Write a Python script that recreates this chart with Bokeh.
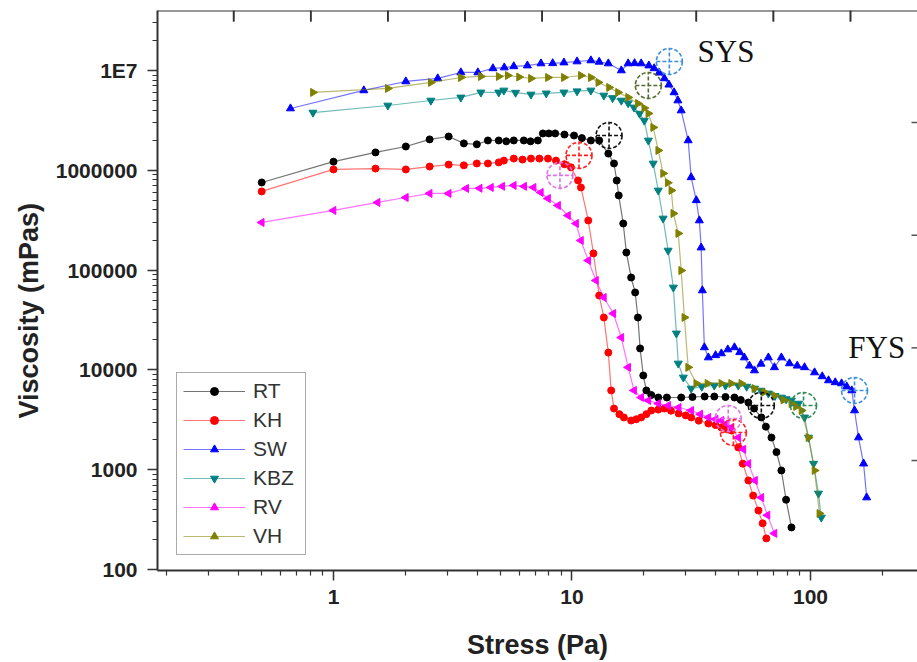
import numpy as np
from bokeh.plotting import figure
from bokeh.models import (Range1d, FixedTicker, Legend, LegendItem, Label, Span,
                          LinearScale, Title)
from bokeh.embed import file_html
from bokeh.resources import INLINE

# ---------------- data ----------------
RT_X = [0.5, 1.0, 1.5, 2.01, 2.53, 3.04, 3.52, 3.99, 4.44, 4.93,
        5.3, 5.7, 6.28, 6.7, 7.19, 7.55, 8.0, 8.5, 9.3, 10.2,
        11.0, 12.0, 13.0, 14.2, 15.0, 15.4, 15.7, 16.4, 16.9, 17.7,
        18.4, 18.9, 19.3, 19.9, 20.5, 21.5, 23.0, 25.0, 28.7, 32.0,
        36.0, 39.5, 44.0, 48.0, 51.0, 54.9, 58.0, 62.2, 65.0, 68.6,
        72.0, 75.5, 79.0, 83.2]
RT_Y = [7.55e5, 1.22e6, 1.51e6, 1.73e6, 2.04e6, 2.18e6, 1.86e6, 1.82e6, 1.99e6, 1.99e6,
        1.95e6, 1.99e6, 1.99e6, 1.95e6, 1.99e6, 2.34e6, 2.34e6, 2.34e6, 2.28e6, 2.23e6,
        2.1e6, 1.99e6, 1.99e6, 1.47e6, 1.17e6, 7.9e5, 5.6e5, 2.93e5, 1.5e5, 8.43e4,
        5.97e4, 3.35e4, 1.64e4, 8.79e3, 6.22e3, 5.6e3, 5.29e3, 5.29e3, 5.29e3, 5.35e3,
        5.41e3, 5.41e3, 5.35e3, 5.29e3, 5.0e3, 4.71e3, 4.1e3, 3.34e3, 2.7e3, 2.10e3,
        1.5e3, 982, 500, 264]

KH_X = [0.5, 1.0, 1.5, 2.01, 2.53, 3.04, 3.52, 3.99, 4.44, 4.93,
        5.18, 5.7, 6.2, 6.73, 7.3, 7.93, 8.57, 9.3, 9.9, 10.6,
        10.9, 11.7, 12.3, 13.0, 13.6, 14.2, 14.6, 15.0, 15.8, 16.5,
        17.7, 18.6, 19.5, 20.5, 21.5, 23.0, 24.4, 26.0, 28.0, 30.0,
        31.6, 34.0, 37.3, 40.0, 42.3, 44.5, 46.6, 49.8, 52.0, 54.9,
        57.5, 60.5, 63.0, 65.3]
KH_Y = [6.14e5, 1.02e6, 1.04e6, 1.02e6, 1.09e6, 1.14e6, 1.12e6, 1.17e6, 1.17e6, 1.20e6,
        1.25e6, 1.31e6, 1.28e6, 1.31e6, 1.31e6, 1.31e6, 1.25e6, 1.15e6, 1.07e6, 7.91e5,
        6.73e5, 3.14e5, 1.47e5, 5.56e4, 3.35e4, 1.49e4, 6.22e3, 4.10e3, 3.6e3, 3.34e3,
        3.11e3, 3.2e3, 3.34e3, 3.6e3, 3.92e3, 4.0e3, 4.10e3, 3.9e3, 3.66e3, 3.5e3,
        3.34e3, 3.1e3, 2.90e3, 2.8e3, 2.65e3, 2.55e3, 2.47e3, 1.67e3, 1.15e3, 780,
        550, 390, 290, 205]

SW_X = [0.66, 1.34, 2.01, 2.735, 3.42, 4.03, 4.66, 5.2, 5.7, 6.5,
        7.41, 8.3, 9.25, 10.5, 12.0, 13.0, 14.2, 16.1, 17.2, 18.3,
        19.5, 21.0, 22.1, 23.2, 24.4, 25.5, 26.8, 27.8, 28.7, 30.7,
        31.6, 33.2, 34.2, 34.8, 35.2, 35.9, 37.3, 40.0, 42.3, 45.0,
        48.0, 50.5, 52.8, 55.5, 58.2, 62.0, 66.6, 70.6, 75.5, 81.6,
        88.0, 94.4, 104, 112, 119, 127, 135, 142, 149, 153,
        159, 167, 172]
SW_Y = [4.16e6, 6.31e6, 7.76e6, 8.32e6, 9.55e6, 9.55e6, 1.05e7, 1.07e7, 1.10e7, 1.12e7,
        1.175e7, 1.18e7, 1.20e7, 1.23e7, 1.26e7, 1.22e7, 1.175e7, 1.0e7, 1.175e7, 1.18e7,
        1.175e7, 1.12e7, 1.05e7, 9.5e6, 8.32e6, 7.2e6, 6.03e6, 5.0e6, 3.97e6, 1.99e6,
        8.5e5, 5.0e5, 3.14e5, 1.68e5, 6.25e4, 1.68e4, 1.33e4, 1.4e4, 1.46e4, 1.6e4,
        1.68e4, 1.5e4, 1.33e4, 1.1e4, 9.86e3, 1.15e4, 1.33e4, 1.06e4, 1.33e4, 1.16e4,
        1.1e4, 1.06e4, 9.42e3, 8.6e3, 7.84e3, 7.5e3, 7.31e3, 6.8e3, 6.22e3, 3.92e3,
        2.10e3, 1.15e3, 526]

KBZ_X = [0.82, 1.69, 2.56, 3.42, 4.15, 4.93, 5.18, 5.8, 6.73, 7.8,
         9.25, 10.5, 12.0, 13.6, 14.8, 16.1, 17.2, 18.2, 19.2, 20.1,
         20.9, 21.9, 23.0, 24.1, 25.3, 26.6, 27.4, 27.9, 29.3, 31.6,
         35.0, 39.5, 44.0, 49.8, 54.0, 58.2, 62.0, 66.6, 71.0, 75.5,
         79.0, 83.2, 89.1, 94.4, 98.1, 103, 108, 111]
KBZ_Y = [3.79e6, 4.46e6, 5.0e6, 5.37e6, 6.03e6, 6.03e6, 6.31e6, 6.0e6, 5.75e6, 5.9e6,
         6.03e6, 6.2e6, 6.31e6, 5.62e6, 5.3e6, 5.0e6, 4.7e6, 4.26e6, 3.7e6, 3.15e6,
         1.99e6, 1.17e6, 6.28e5, 3.29e5, 1.57e5, 6.70e4, 2.32e4, 1.16e4, 8.40e3, 6.51e3,
         6.8e3, 6.98e3, 6.98e3, 6.98e3, 6.8e3, 6.51e3, 6.2e3, 5.81e3, 5.5e3, 5.29e3,
         5.1e3, 4.94e3, 4.60e3, 3.34e3, 2.10e3, 1.15e3, 578, 332]

RV_X = [0.5, 1.0, 1.53, 2.01, 2.53, 3.04, 3.6, 4.1, 4.57, 5.1,
        5.7, 6.3, 6.9, 7.4, 7.93, 8.74, 9.62, 10.4, 10.9, 11.7,
        12.6, 13.6, 14.9, 16.1, 17.2, 18.2, 19.5, 20.9, 23.0, 25.3,
        28.0, 31.6, 34.5, 37.3, 40.0, 42.3, 44.5, 46.6, 49.8, 52.3,
        54.9, 58.5, 62.2, 66.0, 70.6]
RV_Y = [3.0e5, 3.96e5, 4.76e5, 5.34e5, 5.86e5, 5.86e5, 6.58e5, 6.6e5, 6.73e5, 6.9e5,
        7.05e5, 6.9e5, 6.73e5, 6.0e5, 5.21e5, 4.44e5, 3.52e5, 2.93e5, 1.98e5, 1.25e5,
        7.87e4, 5.31e4, 3.67e4, 2.11e4, 1.06e4, 6.22e3, 5.3e3, 4.94e3, 4.6e3, 4.40e3,
        4.2e3, 3.92e3, 3.6e3, 3.34e3, 3.2e3, 3.11e3, 2.9e3, 2.65e3, 2.10e3, 1.6e3,
        1.15e3, 780, 526, 350, 230]

VH_X = [0.82, 1.69, 2.56, 3.42, 4.15, 4.93, 5.38, 6.0, 6.73, 7.93,
        9.25, 10.9, 12.0, 12.9, 14.3, 15.6, 17.2, 18.9, 20.1, 20.9,
        21.9, 23.0, 24.1, 25.2, 26.1, 26.6, 27.9, 28.7, 29.6, 30.7,
        33.2, 37.0, 42.3, 46.5, 51.3, 58.2, 64.0, 70.6, 77.0, 83.2,
        87.0, 91.7, 98.1, 104, 109]
VH_Y = [6.03e6, 6.61e6, 7.59e6, 8.51e6, 8.71e6, 8.71e6, 8.91e6, 8.6e6, 8.32e6, 8.51e6,
        8.51e6, 8.91e6, 8.5e6, 7.59e6, 6.76e6, 6.03e6, 5.37e6, 4.67e6, 4.2e6, 3.71e6,
        2.69e6, 1.58e6, 9.3e5, 7.5e5, 6.28e5, 3.69e5, 2.33e5, 9.9e4, 3.35e4, 1.06e4,
        7.31e3, 7.31e3, 7.31e3, 7.31e3, 7.31e3, 6.51e3, 6.0e3, 5.54e3, 5.0e3, 4.6e3,
        4.3e3, 3.92e3, 2.10e3, 982, 364]

# yield-stress markers (static = SYS, flow = FYS)
SYS_X = [25.6, 14.3, 10.7, 20.9, 8.9]
SYS_Y = [1.23e7, 2.23e6, 1.41e6, 7.08e6, 8.9e5]
SYS_COLORS = ["#3d8fd8", "#111111", "#ff2020", "#556b2f", "#e070e8"]
FYS_X = [153, 93.5, 62.2, 47.5, 45.2]
FYS_Y = [6.22e3, 4.40e3, 4.40e3, 2.36e3, 3.26e3]
FYS_COLORS = ["#3d8fd8", "#2e8b57", "#111111", "#ff2020", "#e070e8"]

Y_TICKS = [100, 1000, 10000, 100000, 1000000, 10000000]
Y_LABELS = ["100", "1000", "10000", "100000", "1000000", "1E7"]
Y_MINOR = [m * d for d in [100, 1000, 10000, 100000, 1000000, 10000000]
           for m in range(2, 10) if m * d < 4e7]
X_TICKS = [1, 10, 100]
X_LABELS = ["1", "10", "100"]
X_MINOR = [m * d for d in [0.1, 1, 10, 100] for m in range(2, 10) if 0.19 < m * d < 280]
TOP_TICKS = [1, 2, 3, 4, 5, 6, 7, 8, 9]       # evenly spaced marks of the original top frame
TOP_SPAN = (0.012, 9.869)                     # their range across the frame width
RIGHT_TICKS = [1, 2, 3, 4]

SERIES = [
    ("RT", RT_X, RT_Y, "#000000", "circle", 0.0, 7),
    ("KH", KH_X, KH_Y, "#ff0000", "circle", 0.0, 7),
    ("SW", SW_X, SW_Y, "#0000ff", "triangle", 0.0, 8),
    ("KBZ", KBZ_X, KBZ_Y, "#008080", "inverted_triangle", 0.0, 8),
    ("RV", RV_X, RV_Y, "#ff00ff", "triangle", 1.5708, 8),
    ("VH", VH_X, VH_Y, "#808000", "triangle", -1.5708, 8),
]

FONT = "Liberation Sans"
X_LO, X_HI = 0.1828, 281
Y_LO, Y_HI = 97.7, 3.99e7

p = figure(width=917, height=662, x_axis_type="log", y_axis_type="log",
           x_range=Range1d(X_LO, X_HI), y_range=Range1d(Y_LO, Y_HI),
           output_backend="svg", toolbar_location=None,
           min_border_left=157, min_border_right=0, min_border_top=10,
           min_border_bottom=92)
p.outline_line_color = None
p.xgrid.visible = False
p.ygrid.visible = False
p.background_fill_color = "white"

# axes
for ax in (p.xaxis[0], p.yaxis[0]):
    ax.axis_line_color = "#333333"
    ax.axis_line_width = 2
    ax.major_tick_line_color = "#333333"
    ax.minor_tick_line_color = "#333333"
    ax.major_tick_line_width = 1.5
    ax.minor_tick_line_width = 1.2
    ax.major_tick_in = 0
    ax.minor_tick_in = 0
    ax.major_tick_out = 10
    ax.minor_tick_out = 5
    ax.major_label_text_font = FONT
    ax.major_label_text_font_style = "bold"
    ax.major_label_text_font_size = "21px"
    ax.major_label_text_color = "#222222"
    ax.axis_label_text_font = FONT
    ax.axis_label_text_font_style = "bold"
    ax.axis_label_text_font_size = "27px"
    ax.axis_label_text_color = "#222222"

xax = p.xaxis[0]
xax.ticker = FixedTicker(ticks=X_TICKS, minor_ticks=X_MINOR)
xax.major_label_overrides = {float(t): l for t, l in zip(X_TICKS, X_LABELS)}
xax.axis_label = "Stress (Pa)"
xax.major_label_standoff = 9
xax.axis_label_standoff = 23

yax = p.yaxis[0]
yax.ticker = FixedTicker(ticks=Y_TICKS, minor_ticks=Y_MINOR)
yax.major_label_overrides = {float(t): l for t, l in zip(Y_TICKS, Y_LABELS)}
yax.major_label_standoff = 10

# y title, a little below the frame centre as in the original
p.add_layout(Title(text="Viscosity (mPas)", align="left", offset=152,
                   text_font=FONT, text_font_style="bold", text_font_size="27px",
                   text_color="#222222", standoff=17), "left")

# top frame line and the decorative tick rows of the original frame
p.add_layout(Span(location=Y_HI, dimension="width", line_color="#333333", line_width=2))
p.extra_x_ranges = {"topmarks": Range1d(*TOP_SPAN)}
p.extra_x_scales = {"topmarks": LinearScale()}
p.extra_y_ranges = {"frac": Range1d(0, 560), "right": Range1d(0.024, 4.994)}
p.extra_y_scales = {"frac": LinearScale(), "right": LinearScale()}
p.multi_line(xs=[[t, t] for t in TOP_TICKS], ys=[[560, 549] for _ in TOP_TICKS],
             x_range_name="topmarks", y_range_name="frac",
             line_color="#333333", line_width=1.6)
p.scatter(TOP_TICKS, [554.5] * len(TOP_TICKS), x_range_name="topmarks",
          y_range_name="frac", marker="dash", angle=1.5708, size=11,
          line_color="#333333", line_width=1.6)
p.scatter([X_HI] * len(RIGHT_TICKS), RIGHT_TICKS, y_range_name="right", marker="dash",
          size=12, line_color="#555555", line_width=1.5)

# series
items = []
for name, xs, ys, color, marker, angle, size in SERIES:
    ln = p.line(xs, ys, line_color=color, line_width=1.2, line_alpha=0.55)
    sc = p.scatter(xs, ys, marker=marker, size=size, angle=angle,
                   fill_color=color, line_color=color)
    items.append(LegendItem(label=name, renderers=[ln, sc]))

# yield-stress circles
p.scatter(SYS_X, SYS_Y, marker="circle_cross", size=26, fill_color=None,
          line_color=SYS_COLORS, line_width=1.6, line_dash="4 2")
p.scatter(FYS_X, FYS_Y, marker="circle_cross", size=26, fill_color=None,
          line_color=FYS_COLORS, line_width=1.6, line_dash="4 2")

p.add_layout(Label(x=33.6, y=1.55e7, text="SYS", text_font="Liberation Serif",
                   text_font_size="31px", text_color="#111111",
                   text_baseline="middle", text_align="left"))
p.add_layout(Label(x=144, y=1.675e4, text="FYS", text_font="Liberation Serif",
                   text_font_size="31px", text_color="#111111",
                   text_baseline="middle", text_align="left"))

legend = Legend(items=items, location=(19, 15))
legend.border_line_color = "#555555"
legend.border_line_width = 1.5
legend.background_fill_color = "white"
legend.background_fill_alpha = 1.0
legend.label_text_font = FONT
legend.label_text_font_size = "21px"
legend.label_text_color = "#333333"
legend.glyph_width = 62
legend.glyph_height = 20
legend.label_height = 20
legend.label_width = 46
legend.label_standoff = 8
legend.spacing = 5
legend.padding = 6
legend.margin = 0
p.add_layout(legend)

open("out.html", "w").write(file_html(p, INLINE))
